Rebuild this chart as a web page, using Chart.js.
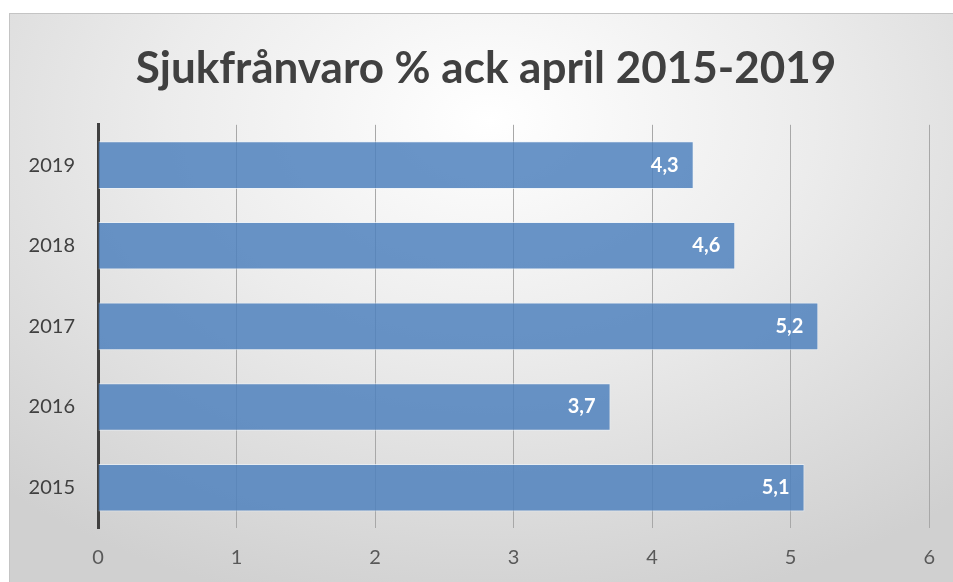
<!DOCTYPE html>
<html>
<head>
<meta charset="utf-8">
<script src="https://cdn.jsdelivr.net/npm/chart.js@4"></script>
<style>
    html, body { margin: 0; padding: 0; background: #fff; overflow: hidden; }
    body { width: 953px; height: 582px; position: relative; }
    .panel {
        position: absolute; left: 9px; top: 13px; width: 960px; height: 590px;
        border: 1px solid #c4c4c4;
        background: radial-gradient(ellipse 75% 85% at 50% 18%, #ffffff 0%, #ececec 45%, #d0d0d0 100%);
    }
    .wrap { position: absolute; left: 0; top: 0; width: 953px; height: 582px; }
</style>
</head>
<body>
<div class="panel"></div>
<div class="wrap"><canvas id="sjukChart"></canvas></div>
<script>
const years = ['2019', '2018', '2017', '2016', '2015'];
const values = [4.3, 4.6, 5.2, 3.7, 5.1];
const xTicks = [0, 1, 2, 3, 4, 5, 6];
const titleText = 'Sjukfrånvaro % ack april 2015-2019';

const FONT = "Lato, 'Open Sans', sans-serif";

// etiketter inne i staplarna, nära slutet
const barLabels = {
    id: 'barLabels',
    afterLayout(chart) {
        // titeln centreras över hela ramen, inte bara canvasytan
        if (chart.titleBlock) chart.titleBlock.left += 41;
    },
    afterDatasetsDraw(chart) {
        const ctx = chart.ctx;
        const meta = chart.getDatasetMeta(0);
        ctx.save();
        ctx.font = "bold 20px " + FONT;
        ctx.fillStyle = '#ffffff';
        ctx.textAlign = 'right';
        ctx.textBaseline = 'middle';
        meta.data.forEach((bar, i) => {
            const txt = values[i].toFixed(1).replace('.', ',');
            ctx.fillText(txt, bar.x - 15, bar.y);
        });
        ctx.restore();
    }
};

new Chart(document.getElementById('sjukChart').getContext('2d'), {
    type: 'bar',
    data: {
        labels: years,
        datasets: [{
            data: values,
            backgroundColor: 'rgba(79,129,189,0.85)',
            borderColor: 'rgba(235,242,250,0.7)',
            borderWidth: 1,
            borderSkipped: 'start',
            categoryPercentage: 1,
            barPercentage: 0.59
        }]
    },
    options: {
        indexAxis: 'y',
        responsive: true,
        maintainAspectRatio: false,
        animation: false,
        layout: { padding: { left: 0, right: 22, top: 0, bottom: 0 } },
        plugins: {
            legend: { display: false },
            tooltip: { enabled: false },
            title: {
                display: true,
                text: titleText,
                color: '#404040',
                font: { family: FONT, size: 44, weight: 'bold' },
                padding: { top: 42, bottom: 30 }
            }
        },
        scales: {
            x: {
                min: 0,
                max: 6,
                afterBuildTicks: (scale) => { scale.ticks = xTicks.map(v => ({ value: v })); },
                afterFit: (scale) => { scale.height = 54; },
                grid: { color: '#a8a8a8', lineWidth: 1, drawTicks: false },
                border: { display: false },
                ticks: {
                    color: '#595959',
                    padding: 18,
                    font: { family: FONT, size: 20 }
                }
            },
            y: {
                afterFit: (scale) => { scale.width = 98; },
                grid: { display: false, drawTicks: false },
                border: { display: true, color: '#404040', width: 3 },
                ticks: {
                    color: '#404040',
                    padding: 23,
                    font: { family: FONT, size: 20 }
                }
            }
        }
    },
    plugins: [barLabels]
});
</script>
</body>
</html>
